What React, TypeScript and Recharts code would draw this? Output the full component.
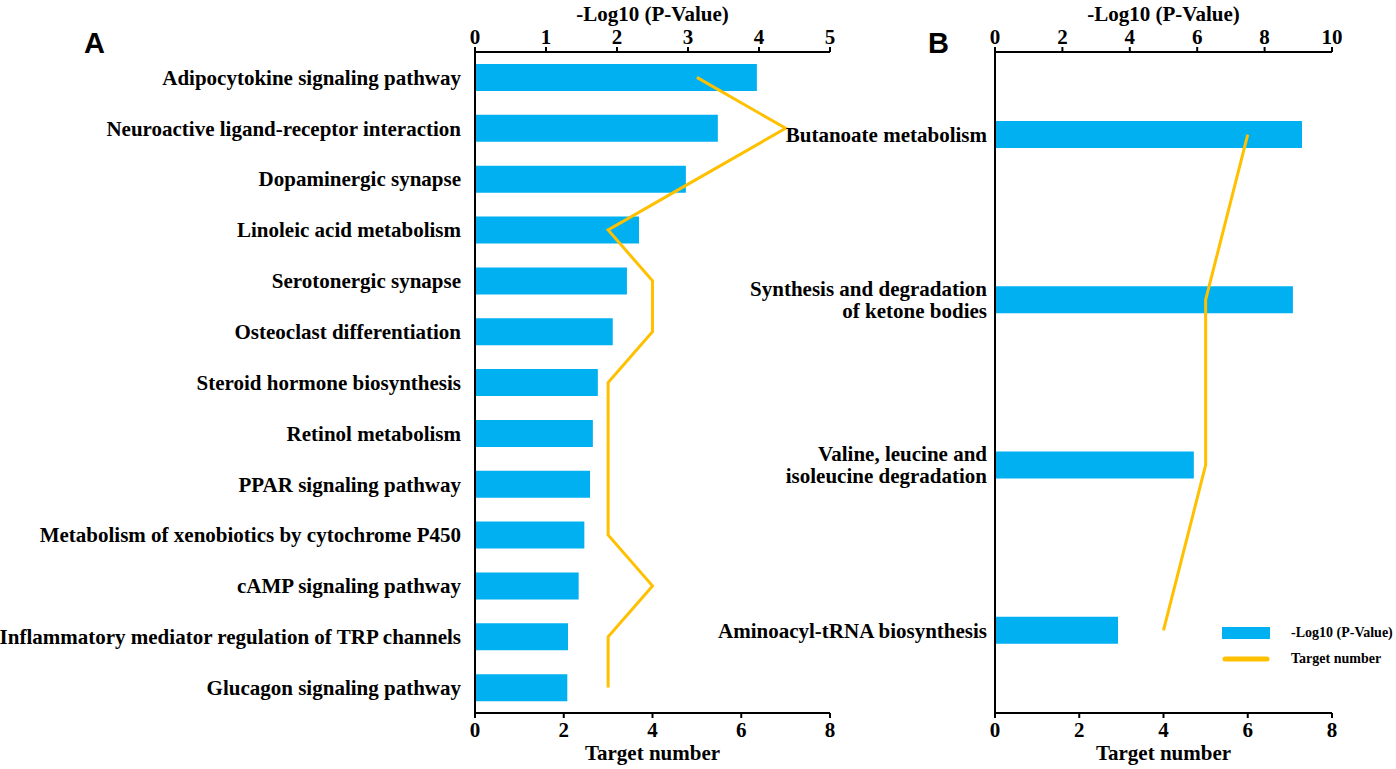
import React from "react";
import { ComposedChart, Bar, Line, XAxis, YAxis, Legend } from "recharts";

const BLUE = "#00B0F0";
const GOLD = "#FFC000";
const SERIF = "'Liberation Serif', 'Times New Roman', serif";

// panel A
const pathwaysA = [
  "Adipocytokine signaling pathway",
  "Neuroactive ligand-receptor interaction",
  "Dopaminergic synapse",
  "Linoleic acid metabolism",
  "Serotonergic synapse",
  "Osteoclast differentiation",
  "Steroid hormone biosynthesis",
  "Retinol metabolism",
  "PPAR signaling pathway",
  "Metabolism of xenobiotics by cytochrome P450",
  "cAMP signaling pathway",
  "Inflammatory mediator regulation of TRP channels",
  "Glucagon signaling pathway",
];
const pValueA = [3.97, 3.42, 2.97, 2.31, 2.14, 1.94, 1.73, 1.66, 1.62, 1.54, 1.46, 1.31, 1.3];
const targetsA = [5, 7, 5, 3, 4, 4, 3, 3, 3, 3, 4, 3, 3];
const pTicksA = [0, 1, 2, 3, 4, 5];

// panel B
const pathwaysB = [
  "Butanoate metabolism",
  "Synthesis and degradation\nof ketone bodies",
  "Valine, leucine and\nisoleucine degradation",
  "Aminoacyl-tRNA biosynthesis",
];
const pValueB = [9.11, 8.84, 5.9, 3.65];
const targetsB = [6, 5, 5, 4];
const pTicksB = [0, 2, 4, 6, 8, 10];

const targetTicks = [0, 2, 4, 6, 8];

const dataA = pathwaysA.map((name, i) => ({ name, p: pValueA[i], t: targetsA[i] }));
const dataB = pathwaysB.map((name, i) => ({ name, p: pValueB[i], t: targetsB[i] }));

const tickStyle = { fill: "#000", fontSize: 21, fontWeight: "bold", fontFamily: SERIF };
const titleStyle = { fill: "#000", fontSize: 21, fontWeight: "bold", fontFamily: SERIF };
const axisStroke = { stroke: "#000", strokeWidth: 2 };

function CategoryTick({ x, y, payload }: any) {
  const lines = String(payload.value).split("\n");
  const lh = 22;
  const y0 = y - ((lines.length - 1) * lh) / 2;
  return (
    <text x={x} y={y0} textAnchor="end" fontFamily={SERIF} fontWeight="bold" fontSize={21} fill="#000">
      {lines.map((l, i) => (
        <tspan key={i} x={x} y={y0 + i * lh} dy="0.35em">
          {l}
        </tspan>
      ))}
    </text>
  );
}

function LegendBox({ payload }: any) {
  return (
    <div style={{ fontFamily: SERIF, fontWeight: "bold", fontSize: 14, color: "#000" }}>
      {(payload || []).map((item: any) => (
        <div key={item.value} style={{ display: "flex", alignItems: "center", height: 26 }}>
          <svg width={48} height={14}>
            {item.type === "line" ? (
              <line x1={3} y1={7} x2={45} y2={7} stroke={item.color} strokeWidth={5} strokeLinecap="round" />
            ) : (
              <rect x={0} y={1} width={48} height={12} fill={item.color} />
            )}
          </svg>
          <span style={{ marginLeft: 21 }}>{item.value}</span>
        </div>
      ))}
    </div>
  );
}

function Panel({ data, width, axisWidth, rightMargin, pDomain, pTicks, gap, legend }: any) {
  return (
    <ComposedChart
      layout="vertical"
      width={width}
      height={769}
      data={data}
      margin={{ top: 0, right: rightMargin, bottom: 0, left: 0 }}
    >
      <XAxis
        xAxisId="p"
        orientation="top"
        type="number"
        domain={pDomain}
        ticks={pTicks}
        height={52}
        tick={tickStyle}
        tickSize={5}
        tickMargin={3}
        tickLine={axisStroke}
        axisLine={axisStroke}
        label={{ value: "-Log10 (P-Value)", position: "insideTop", offset: 6, ...titleStyle }}
      />
      <XAxis
        xAxisId="t"
        orientation="bottom"
        type="number"
        domain={[0, 8]}
        ticks={targetTicks}
        height={56}
        tick={tickStyle}
        tickSize={5}
        tickMargin={4}
        tickLine={axisStroke}
        axisLine={axisStroke}
        label={{ value: "Target number", position: "insideBottom", offset: 9, ...titleStyle }}
      />
      <YAxis
        type="category"
        dataKey="name"
        width={axisWidth}
        interval={0}
        tick={<CategoryTick />}
        tickLine={false}
        tickSize={0}
        tickMargin={gap}
        axisLine={axisStroke}
      />
      <Bar xAxisId="p" dataKey="p" name="-Log10 (P-Value)" fill={BLUE} barSize={27} isAnimationActive={false} />
      <Line
        xAxisId="t"
        dataKey="t"
        name="Target number"
        type="linear"
        stroke={GOLD}
        strokeWidth={3}
        dot={false}
        isAnimationActive={false}
      />
      {legend && (
        <Legend
          layout="horizontal"
          verticalAlign="middle"
          align="center"
          content={<LegendBox />}
          wrapperStyle={{ left: 522, top: 620, width: 180 }}
        />
      )}
    </ComposedChart>
  );
}

export default function App() {
  const letter = {
    position: "absolute" as const,
    fontFamily: "'Liberation Sans', Arial, sans-serif",
    fontWeight: "bold" as const,
    fontSize: 29,
    color: "#000",
  };
  return (
    <div style={{ position: "absolute", left: 0, top: 0, width: 1396, height: 769, background: "#fff" }}>
      <div style={{ position: "absolute", left: 0, top: 0 }}>
        <Panel data={dataA} width={860} axisWidth={475} rightMargin={30} pDomain={[0, 5]} pTicks={pTicksA} gap={14} />
      </div>
      <div style={{ position: "absolute", left: 700, top: 0 }}>
        <Panel data={dataB} width={696} axisWidth={295} rightMargin={64} pDomain={[0, 10]} pTicks={pTicksB} gap={8} legend />
      </div>
      <div style={{ ...letter, left: 84, top: 27 }}>A</div>
      <div style={{ ...letter, left: 928, top: 27 }}>B</div>
    </div>
  );
}
